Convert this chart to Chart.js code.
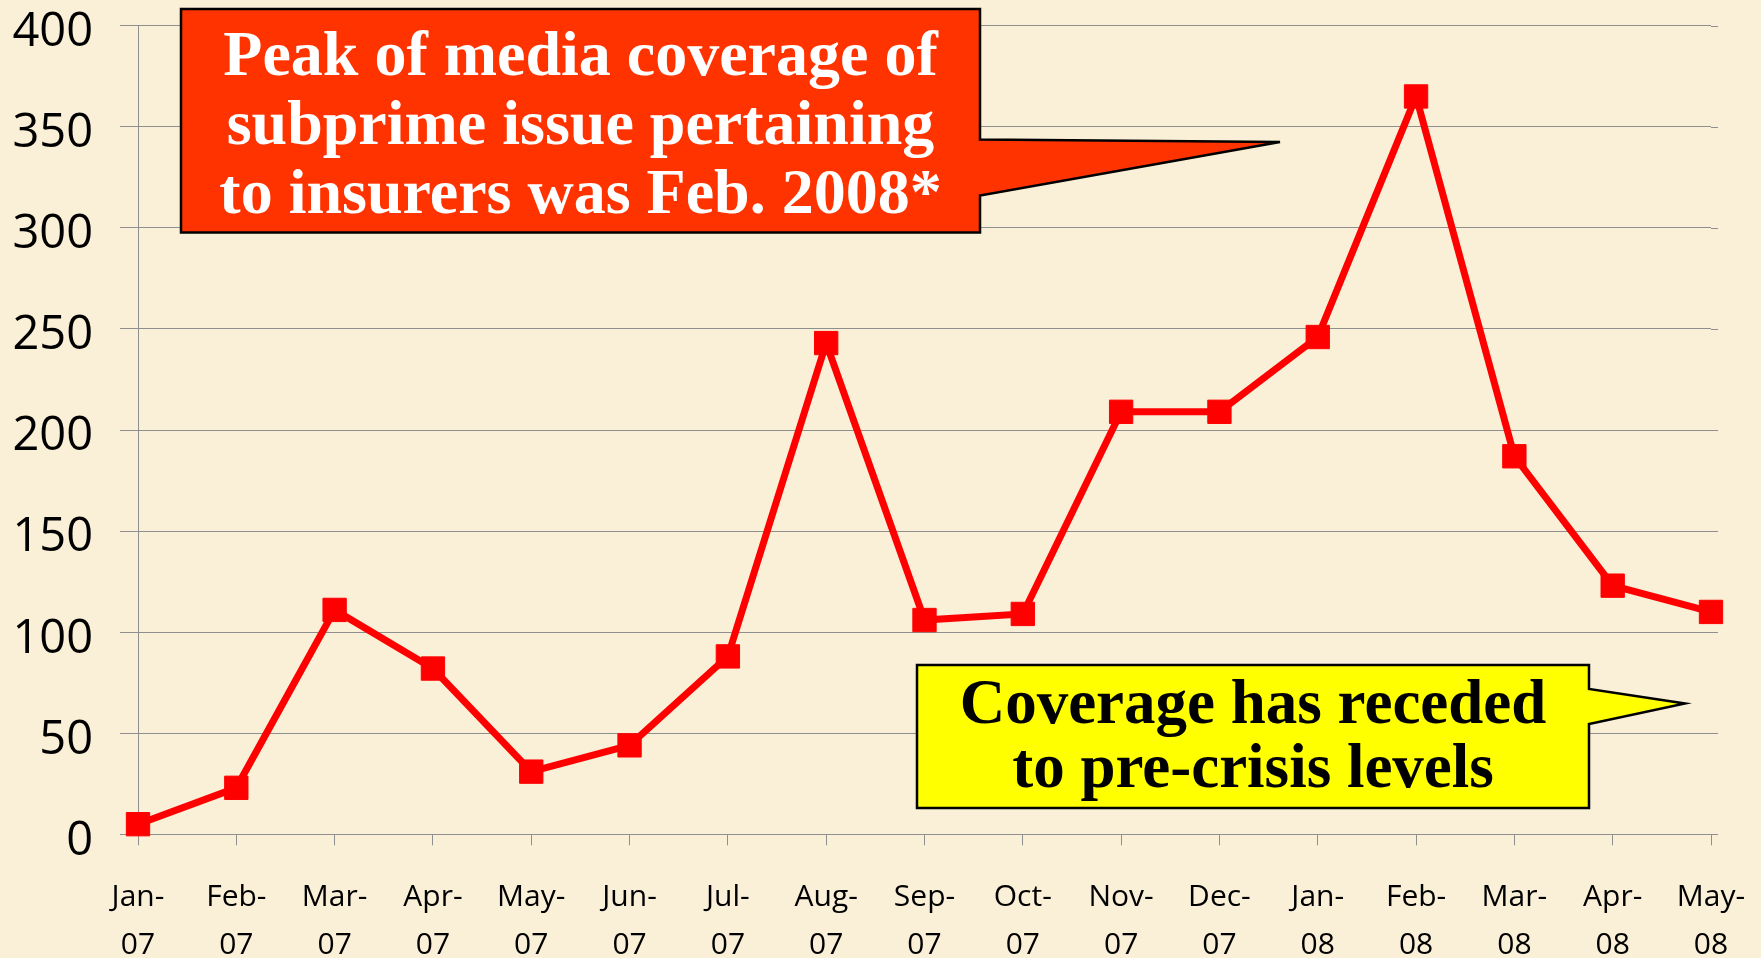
<!DOCTYPE html>
<html>
<head>
<meta charset="utf-8">
<script src="https://cdn.jsdelivr.net/npm/chart.js@4.4.0/dist/chart.umd.min.js"></script>
<style>
  html, body { margin: 0; padding: 0; overflow: hidden; background: #FAEFD7; }
  #wrap { position: relative; width: 1761px; height: 958px; }
</style>
</head>
<body>
<div id="wrap"><canvas id="coverage" width="1761" height="958"></canvas></div>
<script>
// monthly article counts, Jan 2007 - May 2008
const months = [
    ['Jan-', '07'], ['Feb-', '07'], ['Mar-', '07'], ['Apr-', '07'], ['May-', '07'],
    ['Jun-', '07'], ['Jul-', '07'], ['Aug-', '07'], ['Sep-', '07'], ['Oct-', '07'],
    ['Nov-', '07'], ['Dec-', '07'], ['Jan-', '08'], ['Feb-', '08'], ['Mar-', '08'],
    ['Apr-', '08'], ['May-', '08']
];
const articleCounts = [5, 23, 111, 82, 31, 44, 88, 243, 106, 109, 209, 209, 246, 365, 187, 123, 110];
const yTickValues = [0, 50, 100, 150, 200, 250, 300, 350, 400];

const peakNote = ['Peak of media coverage of', 'subprime issue pertaining', 'to insurers was Feb. 2008*'];
const recedeNote = ['Coverage has receded', 'to pre-crisis levels'];

const GRID = '#8f8f8f';

function drawCallout(ctx, c) {
    ctx.save();
    ctx.beginPath();
    ctx.moveTo(c.left, c.top);
    ctx.lineTo(c.right, c.top);
    ctx.lineTo(c.right, c.tail[0]);
    ctx.lineTo(c.tip[0], c.tip[1]);
    ctx.lineTo(c.right, c.tail[1]);
    ctx.lineTo(c.right, c.bottom);
    ctx.lineTo(c.left, c.bottom);
    ctx.closePath();
    ctx.fillStyle = c.fill;
    ctx.fill();
    ctx.lineWidth = 2.5;
    ctx.strokeStyle = '#000';
    ctx.stroke();

    ctx.fillStyle = c.color;
    ctx.font = 'bold ' + c.size + 'px "Liberation Serif", "Times New Roman", serif';
    ctx.textAlign = 'center';
    ctx.textBaseline = 'alphabetic';
    const cx = (c.left + c.right) / 2;
    c.lines.forEach((t, i) => ctx.fillText(t, cx, c.baseline + i * c.step));
    ctx.restore();
}

const callouts = {
    id: 'callouts',
    afterDraw(chart) {
        const ctx = chart.ctx;
        drawCallout(ctx, {
            left: 181, top: 9, right: 980, bottom: 232.5,
            tail: [139.5, 195.5], tip: [1280, 142],
            fill: '#FF3300', color: '#FFFFFF', size: 64,
            lines: peakNote, baseline: 74.5, step: 69
        });
        drawCallout(ctx, {
            left: 917, top: 665, right: 1589, bottom: 808,
            tail: [689, 724], tip: [1685, 703.5],
            fill: '#FFFF00', color: '#000000', size: 63,
            lines: recedeNote, baseline: 723, step: 63.5
        });
    }
};

// horizontal gridlines run a few pixels past the last month
const gridTail = {
    id: 'gridTail',
    beforeDatasetsDraw(chart) {
        const { ctx, chartArea, scales } = chart;
        ctx.save();
        ctx.strokeStyle = GRID;
        ctx.lineWidth = 1;
        scales.y.ticks.forEach(t => {
            const y = Math.round(scales.y.getPixelForValue(t.value)) + 0.5;
            ctx.beginPath();
            ctx.moveTo(chartArea.right, y);
            ctx.lineTo(chartArea.right + 7, y);
            ctx.stroke();
        });
        ctx.restore();
    }
};

new Chart(document.getElementById('coverage'), {
    type: 'line',
    data: {
        labels: months,
        datasets: [{
            data: articleCounts,
            borderColor: '#FF0000',
            backgroundColor: '#FF0000',
            borderWidth: 7,
            pointStyle: 'rect',
            pointRadius: 16.5,
            pointHoverRadius: 16.5,
            pointBorderWidth: 1,
            pointBorderColor: '#FF0000',
            tension: 0,
            clip: false
        }]
    },
    options: {
        responsive: false,
        animation: false,
        devicePixelRatio: 1,
        layout: { autoPadding: false, padding: { top: 25.7, right: 50, bottom: 0, left: 0 } },
        plugins: {
            legend: { display: false },
            tooltip: { enabled: false }
        },
        scales: {
            x: {
                offset: false,
                grid: { display: true, drawOnChartArea: false, color: GRID, tickLength: 11 },
                border: { display: true, color: GRID },
                ticks: {
                    color: '#000',
                    maxRotation: 0,
                    autoSkip: false,
                    padding: 28.5,
                    font: { family: '"Open Sans", sans-serif', size: 30, lineHeight: 1.6 }
                },
                afterFit(s) { s.height = 123.7; s.paddingRight = 0; s.paddingLeft = 0; }
            },
            y: {
                min: 0,
                max: 400,
                afterBuildTicks(s) { s.ticks = yTickValues.map(v => ({ value: v })); },
                grid: { color: GRID, tickLength: 18 },
                border: { display: true, color: GRID },
                ticks: {
                    color: '#000',
                    padding: 27,
                    labelOffset: 7,
                    font: { family: '"Open Sans", sans-serif', size: 47, lineHeight: 1 }
                },
                afterFit(s) { s.width = 138; s.paddingTop = 0; s.paddingBottom = 0; }
            }
        }
    },
    plugins: [gridTail, callouts]
});
</script>
</body>
</html>
